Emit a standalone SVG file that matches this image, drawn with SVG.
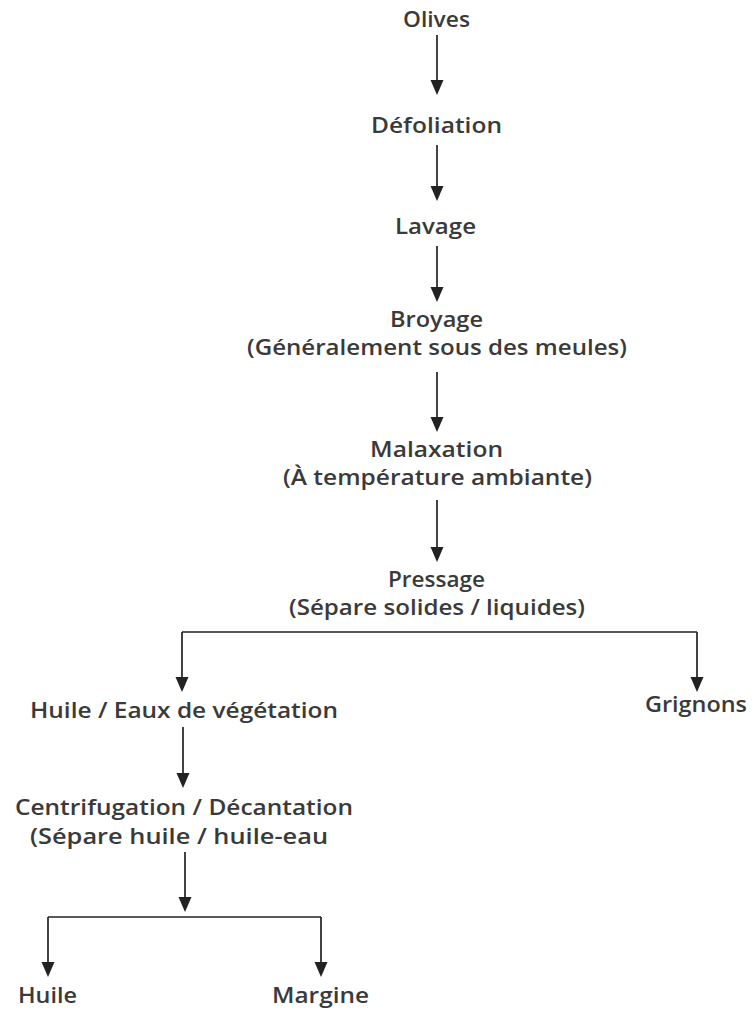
<svg xmlns="http://www.w3.org/2000/svg" width="755" height="1010" viewBox="0 0 755 1010">
<style>
text{font-family:"Open Sans","Noto Sans","Liberation Sans",sans-serif;font-size:21px;font-weight:600;fill:#3a3a3a;}
.c{fill:none;stroke:#222;stroke-width:1.7;}
</style>
<defs>
<marker id="ah" markerUnits="userSpaceOnUse" markerWidth="16" markerHeight="14" viewBox="0 0 16 14" refX="11" refY="7" orient="auto">
<path d="M0,0.5 L15,7 L0,13.5 z" fill="#222"/>
</marker>
</defs>
<rect width="755" height="1010" fill="#fff"/>
<g id="connectors">
<line class="c" x1="437" y1="35" x2="437" y2="91" marker-end="url(#ah)"/>
<line class="c" x1="437" y1="145" x2="437" y2="197" marker-end="url(#ah)"/>
<line class="c" x1="437" y1="246" x2="437" y2="298" marker-end="url(#ah)"/>
<line class="c" x1="437" y1="372" x2="437" y2="428" marker-end="url(#ah)"/>
<line class="c" x1="437" y1="500" x2="437" y2="558" marker-end="url(#ah)"/>
<polyline class="c" points="182,632 697,632"/>
<line class="c" x1="182" y1="632" x2="182" y2="688" marker-end="url(#ah)"/>
<line class="c" x1="697" y1="632" x2="697" y2="688" marker-end="url(#ah)"/>
<line class="c" x1="183" y1="727" x2="183" y2="784" marker-end="url(#ah)"/>
<line class="c" x1="185" y1="852" x2="185" y2="908" marker-end="url(#ah)"/>
<polyline class="c" points="48,917 321,917"/>
<line class="c" x1="48" y1="917" x2="48" y2="973" marker-end="url(#ah)"/>
<line class="c" x1="321" y1="917" x2="321" y2="973" marker-end="url(#ah)"/>
</g>
<g id="olives"><text x="403" y="27" textLength="67" lengthAdjust="spacingAndGlyphs">Olives</text></g>
<g id="defoliation"><text x="371" y="133" textLength="131" lengthAdjust="spacingAndGlyphs">Défoliation</text></g>
<g id="lavage"><text x="395" y="234" textLength="81" lengthAdjust="spacingAndGlyphs">Lavage</text></g>
<g id="broyage"><text x="390" y="327" textLength="93" lengthAdjust="spacingAndGlyphs">Broyage</text><text x="247" y="355" textLength="380" lengthAdjust="spacingAndGlyphs">(Généralement sous des meules)</text></g>
<g id="malaxation"><text x="370" y="457" textLength="133" lengthAdjust="spacingAndGlyphs">Malaxation</text><text x="283" y="485" textLength="309" lengthAdjust="spacingAndGlyphs">(À température ambiante)</text></g>
<g id="pressage"><text x="388" y="587" textLength="97" lengthAdjust="spacingAndGlyphs">Pressage</text><text x="289" y="615" textLength="296" lengthAdjust="spacingAndGlyphs">(Sépare solides / liquides)</text></g>
<g id="huile-eaux"><text x="30" y="718" textLength="308" lengthAdjust="spacingAndGlyphs">Huile / Eaux de végétation</text></g>
<g id="grignons"><text x="645" y="712" textLength="102" lengthAdjust="spacingAndGlyphs">Grignons</text></g>
<g id="centrifugation"><text x="15" y="815" textLength="338" lengthAdjust="spacingAndGlyphs">Centrifugation / Décantation</text><text x="30" y="844" textLength="298" lengthAdjust="spacingAndGlyphs">(Sépare huile / huile-eau</text></g>
<g id="huile"><text x="18" y="1003" textLength="59" lengthAdjust="spacingAndGlyphs">Huile</text></g>
<g id="margine"><text x="272" y="1003" textLength="97" lengthAdjust="spacingAndGlyphs">Margine</text></g>
</svg>
